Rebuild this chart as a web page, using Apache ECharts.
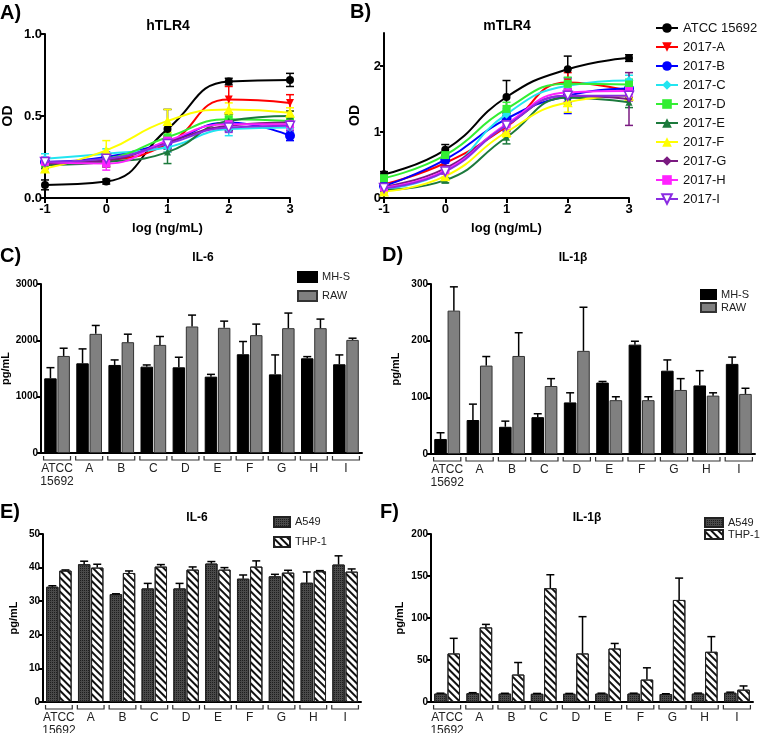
<!DOCTYPE html>
<html><head><meta charset="utf-8">
<script src="https://cdn.jsdelivr.net/npm/echarts@6/dist/echarts.min.js"></script>
<style>html,body{margin:0;padding:0;background:#fff}#c{width:760px;height:733px}</style>
</head><body><div id="c"></div><script>
// ---------- DATA ----------
const doseLog = [-1, 0, 1, 2, 3];
const strainNames = ['ATCC 15692','2017-A','2017-B','2017-C','2017-D','2017-E','2017-F','2017-G','2017-H','2017-I'];
// hTLR4 OD means / SD (rows = strains, cols = doseLog)
const hTLR4Mean = [
  [0.08, 0.10, 0.42, 0.71, 0.72],
  [0.21, 0.23, 0.33, 0.60, 0.58],
  [0.22, 0.25, 0.34, 0.46, 0.38],
  [0.24, 0.27, 0.31, 0.42, 0.43],
  [0.21, 0.24, 0.37, 0.48, 0.47],
  [0.20, 0.22, 0.28, 0.47, 0.50],
  [0.18, 0.29, 0.47, 0.54, 0.52],
  [0.21, 0.23, 0.34, 0.44, 0.46],
  [0.22, 0.21, 0.35, 0.45, 0.45],
  [0.22, 0.24, 0.33, 0.43, 0.44]
];
const hTLR4Sd = [
  [0.03, 0.015, 0.12, 0.02, 0.04],
  [0.03, 0.04, 0.05, 0.08, 0.05],
  [0.02, 0.03, 0.03, 0.05, 0.03],
  [0.03, 0.03, 0.03, 0.04, 0.03],
  [0.02, 0.03, 0.03, 0.04, 0.03],
  [0.02, 0.03, 0.07, 0.04, 0.03],
  [0.02, 0.06, 0.07, 0.04, 0.03],
  [0.02, 0.03, 0.03, 0.03, 0.03],
  [0.03, 0.04, 0.03, 0.03, 0.03],
  [0.02, 0.03, 0.03, 0.03, 0.03]
];
const mTLR4Mean = [
  [0.36, 0.73, 1.53, 1.95, 2.12],
  [0.21, 0.53, 1.08, 1.75, 1.62],
  [0.18, 0.58, 1.20, 1.55, 1.66],
  [0.14, 0.41, 1.27, 1.70, 1.78],
  [0.30, 0.65, 1.35, 1.73, 1.72],
  [0.12, 0.27, 0.92, 1.52, 1.45],
  [0.10, 0.33, 1.00, 1.45, 1.55],
  [0.17, 0.45, 1.10, 1.55, 1.50],
  [0.16, 0.42, 1.12, 1.60, 1.62],
  [0.15, 0.40, 1.10, 1.55, 1.55]
];
const mTLR4Sd = [
  [0.04, 0.08, 0.25, 0.20, 0.05],
  [0.03, 0.05, 0.10, 0.15, 0.10],
  [0.03, 0.05, 0.10, 0.27, 0.08],
  [0.03, 0.04, 0.08, 0.10, 0.08],
  [0.03, 0.05, 0.10, 0.10, 0.08],
  [0.02, 0.04, 0.10, 0.10, 0.08],
  [0.02, 0.04, 0.08, 0.15, 0.08],
  [0.02, 0.04, 0.08, 0.10, 0.40],
  [0.02, 0.04, 0.08, 0.15, 0.08],
  [0.02, 0.04, 0.08, 0.10, 0.08]
];
const barCategories = ['ATCC\n15692','A','B','C','D','E','F','G','H','I'];
// C) IL-6 murine
const il6MHS = [1325, 1592, 1563, 1533, 1521, 1355, 1753, 1396, 1681, 1575];
const il6MHSErr = [190, 256, 89, 30, 179, 41, 226, 345, 30, 166];
const il6RAW = [1723, 2115, 1967, 1919, 2246, 2222, 2092, 2216, 2216, 2008];
const il6RAWErr = [137, 149, 142, 149, 202, 119, 196, 268, 161, 30];
// D) IL-1b murine
const il1bMHS = [26.5, 60, 48, 65, 91, 126, 193, 147, 121, 159];
const il1bMHSErr = [11, 28, 10, 6, 17, 2, 6, 19, 26, 12];
const il1bRAW = [253, 156, 173, 120, 182, 95, 95, 113, 103, 106];
const il1bRAWErr = [42, 16, 41, 13, 77, 6, 6, 20, 5, 10];
// E) IL-6 human
const il6A549 = [34.3, 41.0, 32.1, 33.8, 33.8, 41.2, 36.7, 37.4, 35.5, 40.9];
const il6A549Err = [0.3, 0.9, 0.1, 1.5, 1.5, 0.6, 1.1, 0.6, 3.2, 2.6];
const il6THP1 = [39.1, 40.0, 38.4, 40.3, 39.4, 39.4, 40.3, 38.5, 38.9, 38.8];
const il6THP1Err = [0.2, 1.0, 0.6, 0.6, 0.8, 0.6, 1.7, 0.7, 0.2, 0.8];
// F) IL-1b human
const il1bA549 = [10, 10.5, 10, 9.8, 9.8, 10, 10, 9.5, 10, 11];
const il1bA549Err = [0.5, 0.6, 0.4, 0.4, 0.4, 0.5, 0.5, 0.3, 0.6, 0.7];
const il1bTHP1 = [57.8, 88.8, 32.7, 135.5, 57.8, 63.7, 26.7, 121.5, 59.8, 14.7];
const il1bTHP1Err = [18, 3.6, 14.3, 16, 43.8, 6, 14, 26, 18, 4.4];

// ---------- STYLE ----------
const FONT = '"Liberation Sans", Arial, sans-serif';
const strainColors = ['#000000','#ff0000','#0000ff','#22e5f0','#33ee33','#1c7a3c','#ffff00','#7a1a80','#ff22ff','#8a2be2'];
const triDown = 'path://M0,0 L10,0 L5,9 Z';
const strainSymbols = ['circle', triDown, 'circle', 'diamond', 'rect', 'triangle', 'triangle', 'diamond', 'rect', triDown];
const strainSymbolSize = [8, 8, 10, 9, 8, 7, 10, 7, 8, 9];
const CAT_GAP = 0.2, BAR_GAP = 0.06;

const grids = [
  {left:45, top:34, width:245, height:164},
  {left:384, top:33, width:245, height:165},
  {left:41, top:284, width:321, height:169},
  {left:431, top:284, width:324, height:170},
  {left:43, top:534, width:318, height:168},
  {left:431, top:534, width:322, height:168}
].map(g => Object.assign({containLabel:false, outerBoundsMode:'none'}, g));

const axisLineS = {show:true, onZero:false, lineStyle:{color:'#000', width:2}};
function curveX(i){
  return {type:'value', gridIndex:i, min:-1, max:3, interval:1,
    axisLine:axisLineS, axisTick:{show:true, length:5, lineStyle:{width:2, color:'#000'}},
    splitLine:{show:false},
    axisLabel:{fontFamily:FONT, fontWeight:'bold', fontSize:13, color:'#000', margin:5},
    name:'log (ng/mL)', nameLocation:'middle', nameGap:24,
    nameTextStyle:{fontFamily:FONT, fontWeight:'bold', fontSize:13, color:'#000'}};
}
function barX(i){
  return {type:'category', gridIndex:i, data:barCategories,
    axisLine:axisLineS, axisTick:{show:false},
    axisLabel:{interval:0, fontFamily:FONT, fontSize:12, color:'#222', margin:9, lineHeight:13}};
}
function yAx(i, max, interval, gap, fs, fmt){
  return {type:'value', gridIndex:i, min:0, max:max, interval:interval,
    axisLine:axisLineS, axisTick:{show:true, length:4, lineStyle:{width:2, color:'#000'}},
    splitLine:{show:false},
    axisLabel:{fontFamily:FONT, fontWeight:'bold', fontSize:fs, color:'#000', margin:3,
      showMaxLabel: max % interval === 0, formatter: fmt || (v => String(v))},
    name: i < 2 ? 'OD' : 'pg/mL', nameLocation:'middle', nameGap:gap,
    nameTextStyle:{fontFamily:FONT, fontWeight:'bold', fontSize: i<2 ? 14 : 11, color:'#000'}};
}

const series = [];
function addCurves(axisIdx, means, sds){
  means.forEach((m, k) => {
    const color = strainColors[k];
    const open = k === 9;
    series.push({
      type:'line', name:strainNames[k], xAxisIndex:axisIdx, yAxisIndex:axisIdx,
      data: doseLog.map((x, j) => [x, m[j]]),
      smooth:0.5,
      symbol:strainSymbols[k], symbolSize:strainSymbolSize[k],
      lineStyle:{color:color, width:2},
      itemStyle: open ? {color:'#fff', borderColor:color, borderWidth:1.5} : {color:color},
      z: 3 + k * 0.01, animation:false
    });
    series.push({
      type:'custom', xAxisIndex:axisIdx, yAxisIndex:axisIdx, silent:true, z:2,
      data: doseLog.map((x, j) => [x, m[j], sds[k][j]]),
      renderItem(params, api){
        const x = api.value(0), v = api.value(1), e = api.value(2);
        const lo = api.coord([x, Math.max(0, v - e)]), hi = api.coord([x, v + e]);
        const st = {stroke:color, lineWidth:1.5};
        return {type:'group', children:[
          {type:'line', shape:{x1:lo[0], y1:lo[1], x2:hi[0], y2:hi[1]}, style:st},
          {type:'line', shape:{x1:hi[0]-4, y1:hi[1], x2:hi[0]+4, y2:hi[1]}, style:st},
          {type:'line', shape:{x1:lo[0]-4, y1:lo[1], x2:lo[0]+4, y2:lo[1]}, style:st}
        ]};
      }
    });
  });
}
addCurves(0, hTLR4Mean, hTLR4Sd);
addCurves(1, mTLR4Mean, mTLR4Sd);

const styleMHS = {color:'#000', borderColor:'#000', borderWidth:1};
const styleRAW = {color:'#808080', borderColor:'#333', borderWidth:1};
const styleA549 = {color:'#4a4a4a', borderColor:'#222', borderWidth:1,
  decal:{symbol:'rect', symbolSize:1, color:'#1e1e1e', dashArrayX:[1,1], dashArrayY:[1,1]}};
const styleTHP1 = {color:'#ffffff', borderColor:'#222', borderWidth:1,
  decal:{symbol:'rect', symbolSize:1, color:'#111', dashArrayX:[1,0], dashArrayY:[2,3], rotation:Math.PI/4}};

function errSeries(axisIdx, vals, errs, slot){
  return {type:'custom', xAxisIndex:axisIdx, yAxisIndex:axisIdx, silent:true, z:4,
    data: vals.map((v, i) => [i, v, errs[i]]),
    renderItem(params, api){
      const i = api.value(0), v = api.value(1), e = api.value(2);
      const w = api.size([1, 0])[0];
      const bw = w * (1 - CAT_GAP) / (2 + BAR_GAP);
      const off = (slot === 0 ? -1 : 1) * bw * (1 + BAR_GAP) / 2;
      const p1 = api.coord([i, v]), p2 = api.coord([i, v + e]);
      const x = p1[0] + off;
      const st = {stroke:'#000', lineWidth:1.5};
      return {type:'group', children:[
        {type:'line', shape:{x1:x, y1:p1[1], x2:x, y2:p2[1]}, style:st},
        {type:'line', shape:{x1:x-4, y1:p2[1], x2:x+4, y2:p2[1]}, style:st}
      ]};
    }};
}
function bracketSeries(axisIdx){
  return {type:'custom', xAxisIndex:axisIdx, yAxisIndex:axisIdx, silent:true, clip:false, z:1,
    data: barCategories.map((c, i) => [i, 0]),
    renderItem(params, api){
      const p = api.coord([api.value(0), 0]);
      const h = api.size([1, 0])[0] * 0.42;
      return {type:'polyline', shape:{points:[[p[0]-h, p[1]+3],[p[0]-h, p[1]+7],[p[0]+h, p[1]+7],[p[0]+h, p[1]+3]]},
        style:{stroke:'#333', lineWidth:1.2, fill:null}};
    }};
}
function addBars(axisIdx, n1, v1, e1, s1, n2, v2, e2, s2){
  series.push({type:'bar', name:n1, xAxisIndex:axisIdx, yAxisIndex:axisIdx, data:v1,
    itemStyle:s1, barCategoryGap:(CAT_GAP*100)+'%', barGap:(BAR_GAP*100)+'%', z:2});
  series.push({type:'bar', name:n2, xAxisIndex:axisIdx, yAxisIndex:axisIdx, data:v2,
    itemStyle:s2, barCategoryGap:(CAT_GAP*100)+'%', barGap:(BAR_GAP*100)+'%', z:2});
  series.push(errSeries(axisIdx, v1, e1, 0));
  series.push(errSeries(axisIdx, v2, e2, 1));
  series.push(bracketSeries(axisIdx));
}
addBars(2, 'MH-S', il6MHS, il6MHSErr, styleMHS, 'RAW', il6RAW, il6RAWErr, styleRAW);
addBars(3, 'MH-S', il1bMHS, il1bMHSErr, styleMHS, 'RAW', il1bRAW, il1bRAWErr, styleRAW);
addBars(4, 'A549', il6A549, il6A549Err, styleA549, 'THP-1', il6THP1, il6THP1Err, styleTHP1);
addBars(5, 'A549', il1bA549, il1bA549Err, styleA549, 'THP-1', il1bTHP1, il1bTHP1Err, styleTHP1);

function txt(x, y, s, size, align, weight){
  return {type:'text', x:x, y:y, silent:true, style:{text:s, fontFamily:FONT, fontSize:size, fontWeight:weight||'bold',
    fill:'#000', textAlign:align||'left', textVerticalAlign:'middle'}};
}
const barLegendText = {fontFamily:FONT, fontSize:11, color:'#222'};
const option = {
  animation:false,
  backgroundColor:'#fff',
  grid: grids,
  xAxis:[curveX(0), curveX(1), barX(2), barX(3), barX(4), barX(5)],
  yAxis:[
    yAx(0, 1, 0.5, 30, 13, v => v.toFixed(1)),
    yAx(1, 2.5, 1, 22, 13),
    yAx(2, 3000, 1000, 27, 10),
    yAx(3, 300, 100, 30, 10),
    yAx(4, 50, 10, 24, 10),
    yAx(5, 200, 50, 26, 10)
  ],
  legend:[
    {data:strainNames, orient:'vertical', left:655, top:21, padding:0, itemGap:5, itemWidth:22, itemHeight:12,
      textStyle:{fontFamily:FONT, fontSize:13, color:'#111', lineHeight:14}, selectedMode:false},
    {data:['MH-S','RAW'], orient:'vertical', left:292, top:266, itemGap:7, itemWidth:19, itemHeight:10, icon:'rect',
      textStyle:barLegendText, selectedMode:false},
    {data:['MH-S','RAW'], orient:'vertical', left:695, top:284, itemGap:2, itemWidth:15, itemHeight:9, icon:'rect',
      textStyle:barLegendText, selectedMode:false},
    {data:['A549','THP-1'], orient:'vertical', left:268, top:511, itemGap:8, itemWidth:16, itemHeight:10, icon:'rect',
      textStyle:barLegendText, selectedMode:false},
    {data:['A549','THP-1'], orient:'vertical', left:699, top:512, itemGap:1, itemWidth:18, itemHeight:9, icon:'rect',
      textStyle:barLegendText, selectedMode:false}
  ],
  graphic:[
    txt(0, 13, 'A)', 20), txt(350, 12, 'B)', 20), txt(0, 256, 'C)', 20),
    txt(382, 255, 'D)', 20), txt(0, 512, 'E)', 20), txt(380, 512, 'F)', 20),
    txt(168, 26, 'hTLR4', 14, 'center'), txt(507, 26, 'mTLR4', 14, 'center'),
    txt(203, 258, 'IL-6', 12, 'center'), txt(573, 258, 'IL-1β', 12, 'center'),
    txt(197, 518, 'IL-6', 12, 'center'), txt(587, 518, 'IL-1β', 12, 'center')
  ],
  series: series
};
const chart = echarts.init(document.getElementById('c'));
chart.setOption(option);
</script></body></html>
